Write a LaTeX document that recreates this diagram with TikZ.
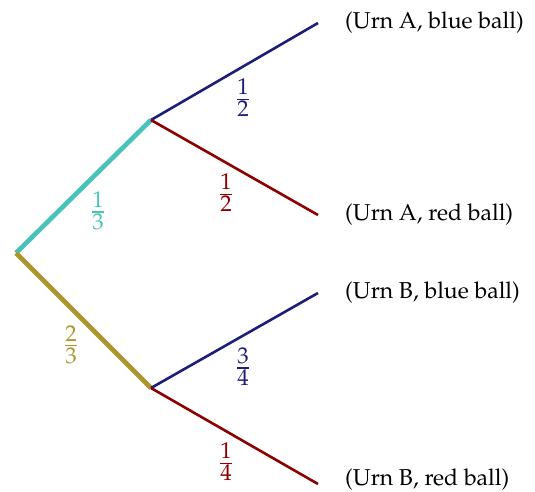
\documentclass[tikz,border=0pt]{standalone}
\usepackage[T1]{fontenc}
\usepackage{mathpazo}
\definecolor{cyanb}{RGB}{72,194,186}
\definecolor{oliveb}{RGB}{172,150,42}
\definecolor{navyb}{RGB}{30,30,120}
\definecolor{redb}{RGB}{140,0,0}
\tikzset{
  thickedge/.style={line width=4.7pt},
  thinedge/.style={line width=2.6pt},
  leaf/.style={anchor=base west, inner sep=0pt},
  prob/.style={inner sep=0pt, font=\fontsize{30}{36}\selectfont},
}
\newcommand{\probfrac}[2]{$\textstyle\frac{#1}{#2}$}
\begin{document}
\begin{tikzpicture}[x=1pt,y=-1pt,font=\fontsize{23}{28}\selectfont]
\useasboundingbox (0,0) rectangle (535,492);
\coordinate (r) at (16,253);
\coordinate (a) at (151,120);
\coordinate (b) at (151,388);
\coordinate (a1) at (318,23);
\coordinate (a2) at (318,215);
\coordinate (b1) at (318,293);
\coordinate (b2) at (318,484);
\node[leaf] (la1) at (345,28.5) {(Urn A, blue ball)};
\node[leaf] (la2) at (345,220.5) {(Urn A, red ball)};
\node[leaf] (lb1) at (345,298.5) {(Urn B, blue ball)};
\node[leaf] (lb2) at (345,485.8) {(Urn B, red ball)};
\draw[thickedge, cyanb] (r) -- (a);
\draw[thickedge, oliveb] (r) -- (b);
\draw[thinedge, navyb] (a) -- (a1);
\draw[thinedge, redb] (a) -- (a2);
\draw[thinedge, navyb] (b) -- (b1);
\draw[thinedge, redb] (b) -- (b2);
\node[prob, text=cyanb] (p1) at (98,211) {\probfrac{1}{3}};
\node[prob, text=oliveb] (p2) at (71,345) {\probfrac{2}{3}};
\node[prob, text=navyb] (p3) at (243,98) {\probfrac{1}{2}};
\node[prob, text=redb] (p4) at (226,193) {\probfrac{1}{2}};
\node[prob, text=navyb] (p5) at (243,367) {\probfrac{3}{4}};
\node[prob, text=redb] (p6) at (226,462) {\probfrac{1}{4}};
\end{tikzpicture}
\end{document}
